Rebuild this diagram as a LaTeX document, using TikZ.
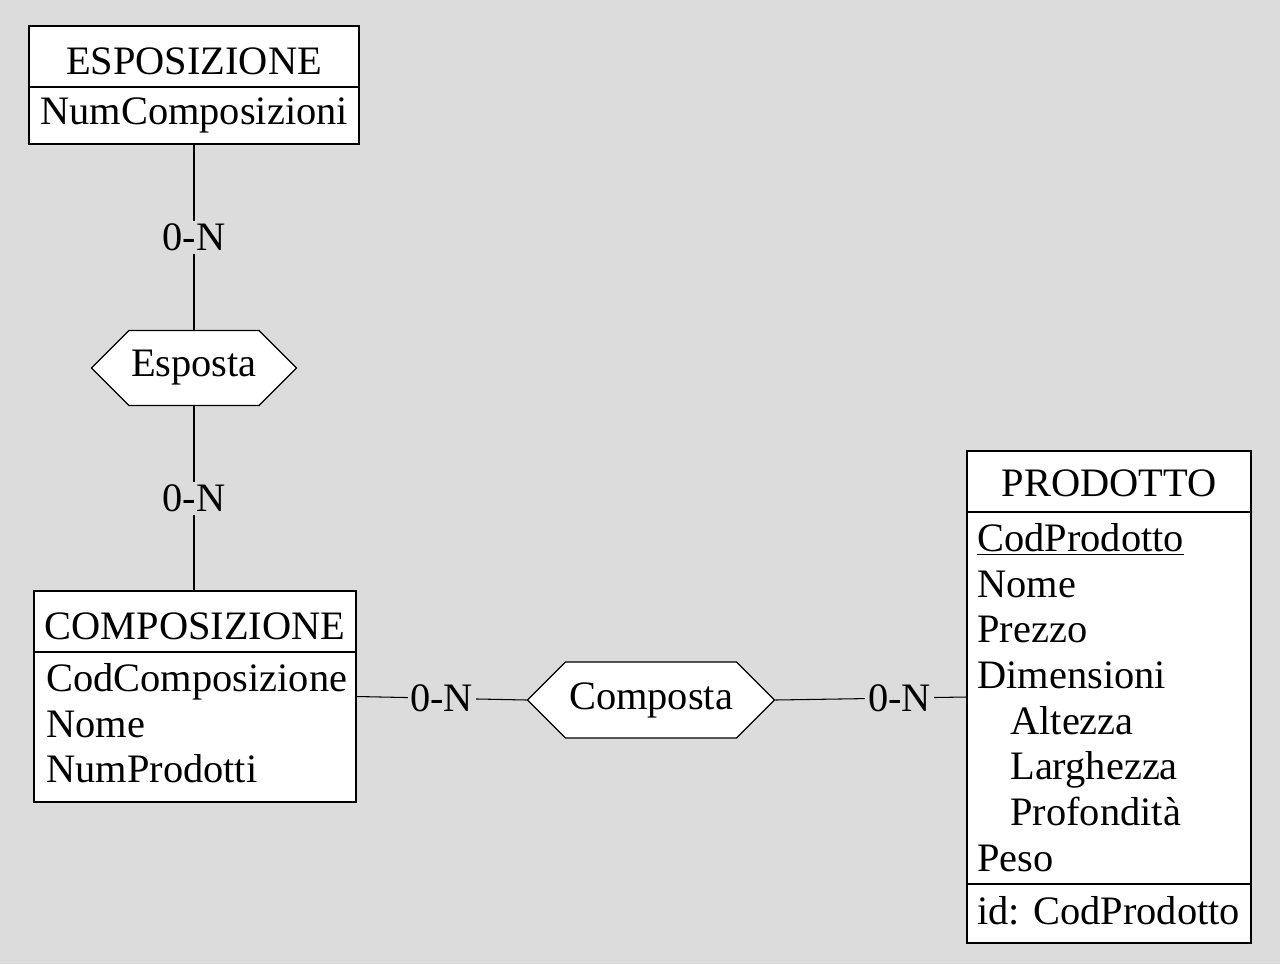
\documentclass[tikz,border=0pt]{standalone}
\usepackage{fontspec}
\setmainfont{Liberation Serif}
\usetikzlibrary{shapes.symbols}
\definecolor{bggray}{RGB}{220,220,220}
\newcommand{\erfont}{\fontsize{23}{26}\selectfont}
\tikzset{
    entbox/.style={draw, fill=white, line width=0.75pt, inner sep=0pt},
    enttitle/.style={font=\erfont, inner sep=0pt, anchor=base},
    entattr/.style={font=\erfont, inner sep=0pt, anchor=north west, align=left},
    entsep/.style={line width=0.75pt},
    relnode/.style={draw, fill=white, line width=0.7pt, signal, signal to=west and east, signal pointer angle=90, inner sep=0pt, font=\erfont},
    erline/.style={line width=0.6pt},
    cardlabel/.style={font=\erfont, fill=bggray, inner sep=1.5pt}
}

\begin{document}
\begin{tikzpicture}[x=0.02cm, y=-0.02cm]
    \fill[bggray] (0,0) rectangle (1280,964);
    \useasboundingbox (0,0) rectangle (1280,964);

    % entities
    \node[entbox, minimum width=6.6cm, minimum height=2.36cm] (esp) at (194,85) {};
    \node[enttitle] (esptitle) at (194,74) {ESPOSIZIONE};
    \draw[entsep] (29,87) -- (359,87);
    \node[entattr] (espattr) at (40,97) {NumComposizioni};

    \node[entbox, minimum width=6.44cm, minimum height=4.22cm] (comp) at (195,696.5) {};
    \node[enttitle] (comptitle) at (195,639) {COMPOSIZIONE};
    \draw[entsep] (34,652) -- (356,652);
    \node[entattr] (compattr) at (46,663) {CodComposizione\\Nome\\NumProdotti};

    \node[entbox, minimum width=5.68cm, minimum height=9.84cm] (prod) at (1109,697) {};
    \node[enttitle] (prodtitle) at (1109,496) {PRODOTTO};
    \draw[entsep] (967,512) -- (1251,512);
    \node[entattr] (prodattr) at (977,523) {\underline{CodProdotto}\\Nome\\Prezzo\\Dimensioni\\
        \hspace*{0.66cm}Altezza\\\hspace*{0.66cm}Larghezza\\\hspace*{0.66cm}Profondità\\Peso};
    \draw[entsep] (967,884) -- (1251,884);
    \node[entattr] (prodid) at (977,896) {id: CodProdotto};

    % relationships
    \node[relnode, minimum width=4.1cm, minimum height=1.5cm] (esposta) at (194,368) {Esposta};
    \node[relnode, minimum width=4.94cm, minimum height=1.52cm] (composta) at (651,700) {Composta};

    % connectors
    \draw[erline] (esp.south) -- node[cardlabel] (card1) {0-N} (esposta.north);
    \draw[erline] (esposta.south) -- node[cardlabel] (card2) {0-N} (esposta.south |- comp.north);
    \draw[erline] (comp.east) -- node[cardlabel] (card3) {0-N} (composta.west);
    \draw[erline] (composta.east) -- node[cardlabel, pos=0.65] (card4) {0-N} (prod.west);
\end{tikzpicture}
\end{document}
